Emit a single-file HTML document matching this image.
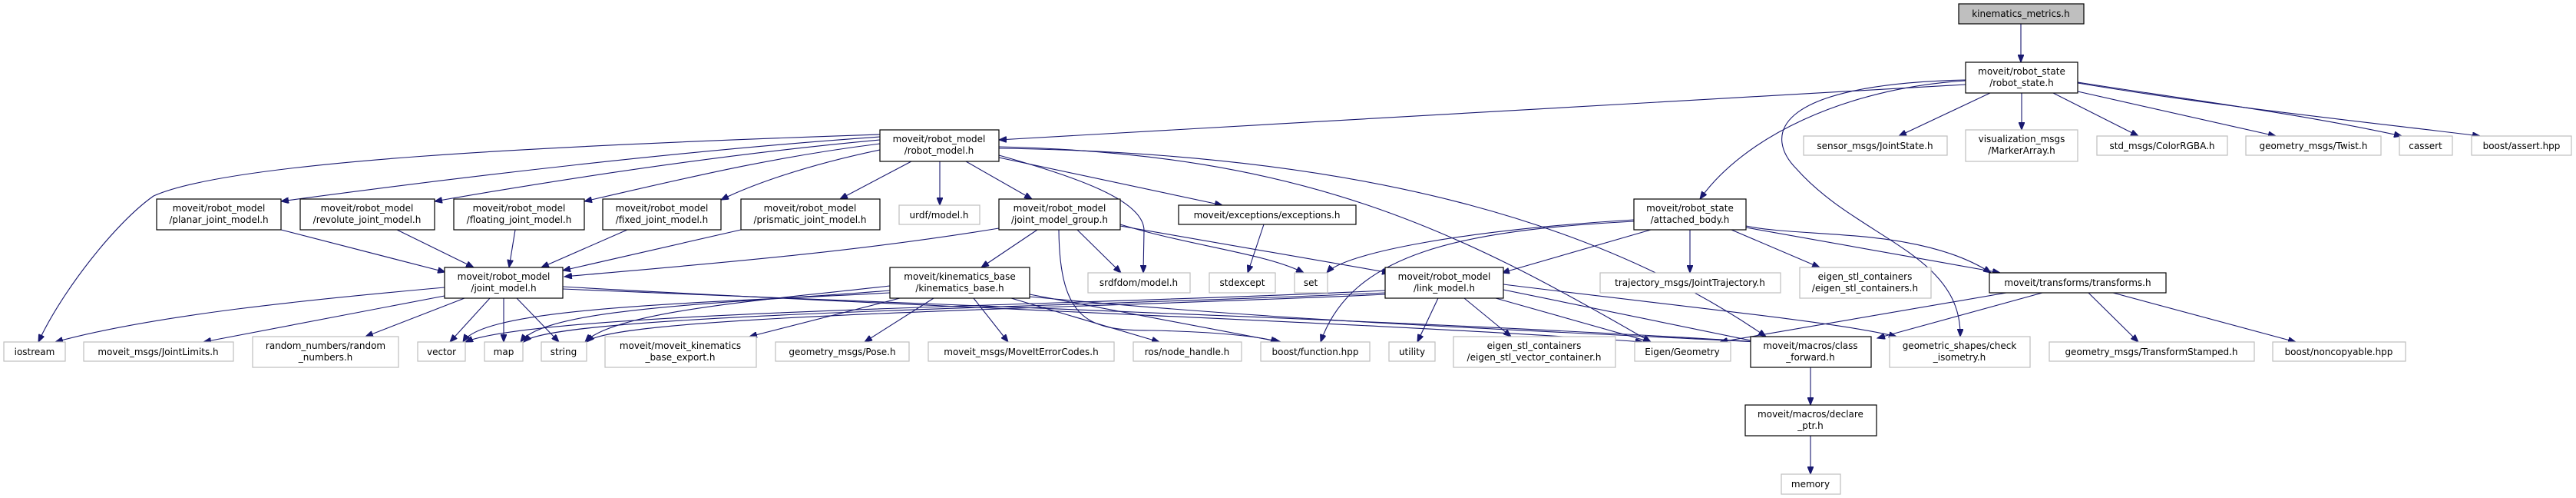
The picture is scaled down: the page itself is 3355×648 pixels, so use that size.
<!DOCTYPE html>
<html><head><meta charset="utf-8"><style>
html,body{margin:0;padding:0;background:#fff;}
svg{display:block;}
text{font-family:"DejaVu Sans","Liberation Sans",sans-serif;font-size:12px;fill:#000;text-anchor:middle;}
.d{fill:#fff;stroke:#000;stroke-width:1.2;}
.g{fill:#fff;stroke:#bfbfbf;stroke-width:1.2;}
path.e{fill:none;stroke:#191970;stroke-width:1.1;}
</style></head><body>
<svg width="3355" height="648" viewBox="0 0 3355 648" xmlns="http://www.w3.org/2000/svg">
<defs><marker id="a" markerUnits="userSpaceOnUse" markerWidth="11" markerHeight="8" refX="10" refY="4" orient="auto"><path d="M0,0 L10,4 L0,8 z" fill="#191970" stroke="#191970"/></marker></defs>
<g marker-end="url(#a)">
<path class="e" d="M2632,31 L2632,81"/>
<path class="e" d="M2560,110 L1301,182"/>
<path class="e" d="M2592,121 L2473,177"/>
<path class="e" d="M2633,121 L2633,169"/>
<path class="e" d="M2674,121 L2785,177"/>
<path class="e" d="M2706,119 L2964,177"/>
<path class="e" d="M2706,107 C2850,130 2980,145 3128,177"/>
<path class="e" d="M2706,108 C2900,140 3050,155 3230,177"/>
<path class="e" d="M2560,105 C2400,115 2270,180 2214,259"/>
<path class="e" d="M2560,104 C2300,110 2300,180 2340,220 C2420,310 2555,330 2553,438"/>
<path class="e" d="M1146,178 C900,195 600,230 366,262"/>
<path class="e" d="M1146,182 C950,200 750,230 566,262"/>
<path class="e" d="M1146,187 C1000,205 880,235 761,262"/>
<path class="e" d="M1146,195 C1050,215 980,240 939,260"/>
<path class="e" d="M1187,210 L1094,259"/>
<path class="e" d="M1146,175 C700,190 300,210 200,255 C150,290 80,380 50,445"/>
<path class="e" d="M1224,210 L1224,267"/>
<path class="e" d="M1258,210 L1344,259"/>
<path class="e" d="M1301,202 C1400,230 1490,260 1490,300 L1489,355"/>
<path class="e" d="M1301,205 L1592,267"/>
<path class="e" d="M1301,297 C1100,330 900,345 735,360"/>
<path class="e" d="M1301,191 C1700,200 1900,300 2150,445"/>
<path class="e" d="M1301,193 C1800,200 2100,300 2300,438"/>
<path class="e" d="M1351,299 L1278,348"/>
<path class="e" d="M1403,299 L1460,355"/>
<path class="e" d="M1459,292 C1550,320 1650,330 1698,355"/>
<path class="e" d="M1459,294 L1810,355"/>
<path class="e" d="M1379,299 C1380,420 1420,430 1500,430 C1600,432 1650,440 1665,445"/>
<path class="e" d="M366,299 L580,354"/>
<path class="e" d="M517,299 L617,348"/>
<path class="e" d="M671,299 L663,348"/>
<path class="e" d="M817,299 L705,348"/>
<path class="e" d="M965,299 L733,352"/>
<path class="e" d="M579,374 C400,390 200,410 72,445"/>
<path class="e" d="M579,385 L265,445"/>
<path class="e" d="M605,388 L476,438"/>
<path class="e" d="M638,388 L586,445"/>
<path class="e" d="M656,388 L656,445"/>
<path class="e" d="M673,388 L728,445"/>
<path class="e" d="M733,373 C1200,400 1800,420 2140,445"/>
<path class="e" d="M733,376 C1300,400 1900,420 2290,445"/>
<path class="e" d="M1216,388 L1126,445"/>
<path class="e" d="M1268,388 L1313,445"/>
<path class="e" d="M1317,388 L1510,445"/>
<path class="e" d="M1341,383 L1668,445"/>
<path class="e" d="M1172,388 L976,438"/>
<path class="e" d="M1159,372 C1000,390 800,405 762,445"/>
<path class="e" d="M1159,378 C950,395 710,400 678,445"/>
<path class="e" d="M1159,381 C900,395 630,400 603,445"/>
<path class="e" d="M1341,386 C1700,420 2000,430 2290,445"/>
<path class="e" d="M1646,292 L1625,355"/>
<path class="e" d="M2128,286 C1900,300 1750,330 1728,355"/>
<path class="e" d="M2128,288 C1900,300 1760,330 1720,445"/>
<path class="e" d="M2150,299 L1956,355"/>
<path class="e" d="M2201,299 L2201,355"/>
<path class="e" d="M2255,299 L2370,348"/>
<path class="e" d="M2274,296 L2605,355"/>
<path class="e" d="M2274,294 C2350,310 2500,295 2593,355"/>
<path class="e" d="M1804,378 C1400,398 700,405 606,445"/>
<path class="e" d="M1804,381 C1400,400 720,408 682,445"/>
<path class="e" d="M1804,383 C1400,402 800,410 764,445"/>
<path class="e" d="M1873,388 L1846,445"/>
<path class="e" d="M1907,388 L1968,438"/>
<path class="e" d="M1948,388 L2150,445"/>
<path class="e" d="M1958,377 L2290,445"/>
<path class="e" d="M1958,370 C2200,400 2400,420 2470,438"/>
<path class="e" d="M2613,381 L2240,445"/>
<path class="e" d="M2660,381 L2445,440"/>
<path class="e" d="M2720,381 L2785,445"/>
<path class="e" d="M2752,381 L2990,445"/>
<path class="e" d="M2358,478 L2358,527"/>
<path class="e" d="M2358,567 L2358,617"/>
</g>
<!-- nodes -->
<rect x="2551" y="5" width="163" height="26" fill="#bfbfbf" stroke="#000" stroke-width="1.2"/><text x="2632" y="22">kinematics_metrics.h</text>
<rect class="d" x="2560" y="81" width="146" height="40"/><text x="2633" y="97">moveit/robot_state</text><text x="2633" y="112">/robot_state.h</text>
<rect class="d" x="1146" y="169" width="155" height="41"/><text x="1223" y="185">moveit/robot_model</text><text x="1223" y="200">/robot_model.h</text>
<rect class="g" x="2349" y="177" width="187" height="25"/><text x="2442" y="194">sensor_msgs/JointState.h</text>
<rect class="g" x="2560" y="169" width="146" height="41"/><text x="2633" y="185">visualization_msgs</text><text x="2633" y="200">/MarkerArray.h</text>
<rect class="g" x="2731" y="177" width="170" height="25"/><text x="2816" y="194">std_msgs/ColorRGBA.h</text>
<rect class="g" x="2925" y="177" width="176" height="25"/><text x="3013" y="194">geometry_msgs/Twist.h</text>
<rect class="g" x="3125" y="177" width="69" height="25"/><text x="3159" y="194">cassert</text>
<rect class="g" x="3219" y="177" width="130" height="25"/><text x="3284" y="194">boost/assert.hpp</text>

<rect class="d" x="204" y="259" width="162" height="40"/><text x="285" y="275">moveit/robot_model</text><text x="285" y="290">/planar_joint_model.h</text>
<rect class="d" x="391" y="259" width="175" height="40"/><text x="478" y="275">moveit/robot_model</text><text x="478" y="290">/revolute_joint_model.h</text>
<rect class="d" x="591" y="259" width="170" height="40"/><text x="676" y="275">moveit/robot_model</text><text x="676" y="290">/floating_joint_model.h</text>
<rect class="d" x="785" y="259" width="154" height="40"/><text x="862" y="275">moveit/robot_model</text><text x="862" y="290">/fixed_joint_model.h</text>
<rect class="d" x="965" y="259" width="181" height="40"/><text x="1055" y="275">moveit/robot_model</text><text x="1055" y="290">/prismatic_joint_model.h</text>
<rect class="g" x="1171" y="267" width="105" height="25"/><text x="1223" y="284">urdf/model.h</text>
<rect class="d" x="1301" y="259" width="158" height="40"/><text x="1380" y="275">moveit/robot_model</text><text x="1380" y="290">/joint_model_group.h</text>
<rect class="d" x="1535" y="267" width="231" height="25"/><text x="1650" y="284">moveit/exceptions/exceptions.h</text>
<rect class="d" x="2128" y="259" width="146" height="40"/><text x="2201" y="275">moveit/robot_state</text><text x="2201" y="290">/attached_body.h</text>

<rect class="d" x="579" y="348" width="154" height="40"/><text x="656" y="364">moveit/robot_model</text><text x="656" y="379">/joint_model.h</text>
<rect class="d" x="1159" y="348" width="182" height="40"/><text x="1250" y="364">moveit/kinematics_base</text><text x="1250" y="379">/kinematics_base.h</text>
<rect class="g" x="1417" y="355" width="133" height="26"/><text x="1483" y="372">srdfdom/model.h</text>
<rect class="g" x="1575" y="355" width="86" height="26"/><text x="1618" y="372">stdexcept</text>
<rect class="g" x="1686" y="355" width="43" height="26"/><text x="1707" y="372">set</text>
<rect class="d" x="1804" y="348" width="154" height="40"/><text x="1881" y="364">moveit/robot_model</text><text x="1881" y="379">/link_model.h</text>
<rect class="g" x="2084" y="355" width="235" height="26"/><text x="2201" y="372">trajectory_msgs/JointTrajectory.h</text>
<rect class="g" x="2344" y="348" width="171" height="40"/><text x="2429" y="364">eigen_stl_containers</text><text x="2429" y="379">/eigen_stl_containers.h</text>
<rect class="d" x="2591" y="355" width="230" height="26"/><text x="2706" y="372">moveit/transforms/transforms.h</text>

<rect class="g" x="5" y="445" width="80" height="25"/><text x="45" y="462">iostream</text>
<rect class="g" x="109" y="445" width="195" height="25"/><text x="206" y="462">moveit_msgs/JointLimits.h</text>
<rect class="g" x="329" y="438" width="190" height="40"/><text x="424" y="454">random_numbers/random</text><text x="424" y="469">_numbers.h</text>
<rect class="g" x="544" y="445" width="62" height="25"/><text x="575" y="462">vector</text>
<rect class="g" x="631" y="445" width="50" height="25"/><text x="656" y="462">map</text>
<rect class="g" x="705" y="445" width="59" height="25"/><text x="734" y="462">string</text>
<rect class="g" x="788" y="438" width="197" height="40"/><text x="886" y="454">moveit/moveit_kinematics</text><text x="886" y="469">_base_export.h</text>
<rect class="g" x="1010" y="445" width="174" height="25"/><text x="1097" y="462">geometry_msgs/Pose.h</text>
<rect class="g" x="1209" y="445" width="242" height="25"/><text x="1330" y="462">moveit_msgs/MoveItErrorCodes.h</text>
<rect class="g" x="1476" y="445" width="141" height="25"/><text x="1546" y="462">ros/node_handle.h</text>
<rect class="g" x="1642" y="445" width="142" height="25"/><text x="1713" y="462">boost/function.hpp</text>
<rect class="g" x="1809" y="445" width="60" height="25"/><text x="1839" y="462">utility</text>
<rect class="g" x="1893" y="438" width="211" height="40"/><text x="1998" y="454">eigen_stl_containers</text><text x="1998" y="469">/eigen_stl_vector_container.h</text>
<rect class="g" x="2129" y="445" width="125" height="25"/><text x="2191" y="462">Eigen/Geometry</text>
<rect class="d" x="2280" y="438" width="157" height="40"/><text x="2358" y="454">moveit/macros/class</text><text x="2358" y="469">_forward.h</text>
<rect class="g" x="2461" y="438" width="183" height="40"/><text x="2552" y="454">geometric_shapes/check</text><text x="2552" y="469">_isometry.h</text>
<rect class="g" x="2669" y="445" width="267" height="25"/><text x="2802" y="462">geometry_msgs/TransformStamped.h</text>
<rect class="g" x="2960" y="445" width="173" height="25"/><text x="3046" y="462">boost/noncopyable.hpp</text>
<rect class="d" x="2273" y="527" width="171" height="40"/><text x="2358" y="543">moveit/macros/declare</text><text x="2358" y="558">_ptr.h</text>
<rect class="g" x="2320" y="617" width="77" height="26"/><text x="2358" y="634">memory</text>
</svg>
</body></html>
